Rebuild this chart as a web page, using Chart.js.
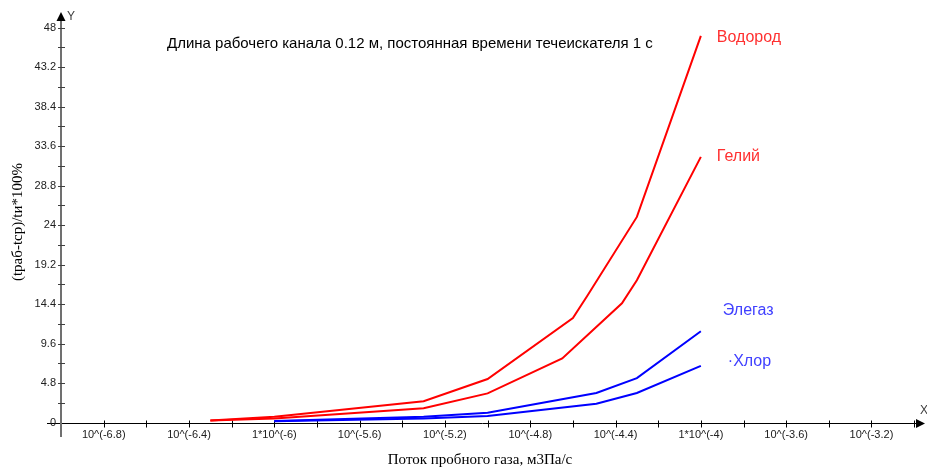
<!DOCTYPE html>
<html>
<head>
<meta charset="utf-8">
<title>Поток пробного газа</title>
<script src="https://cdn.jsdelivr.net/npm/chart.js@4/dist/chart.umd.min.js"></script>
<style>
    html, body { margin: 0; padding: 0; background: #fff; }
    #wrap { width: 927px; height: 467px; }
</style>
</head>
<body>
<div id="wrap"><canvas id="leakChart" width="927" height="467"></canvas></div>
<script>
// x values are log10 of the probe gas flow, y values in %
const h2Flow = [-6.3, -6.0, -5.3, -5.0, -4.6, -4.53, -4.3, -4.0];
const h2Val = [0.25, 0.7, 2.6, 5.3, 12.7, 15.5, 25.0, 47.0];

const heFlow = [-6.3, -6.0, -5.3, -5.0, -4.65, -4.37, -4.3, -4.0];
const heVal = [0.25, 0.5, 1.75, 3.55, 7.8, 14.5, 17.3, 32.3];

const sf6Flow = [-6.0, -5.3, -5.0, -4.49, -4.3, -4.0];
const sf6Val = [0.2, 0.7, 1.2, 3.6, 5.4, 11.1];

const cl2Flow = [-6.0, -5.3, -5.0, -4.49, -4.3, -4.0];
const cl2Val = [0.15, 0.5, 0.8, 2.3, 3.6, 6.9];

const seriesNames = ['Водород', 'Гелий', 'Элегаз', '·Хлор'];

const xTickValues = [-6.8, -6.4, -6.0, -5.6, -5.2, -4.8, -4.4, -4.0, -3.6, -3.2];
const xTickLabels = ['10^(-6.8)', '10^(-6.4)', '1*10^(-6)', '10^(-5.6)', '10^(-5.2)',
    '10^(-4.8)', '10^(-4.4)', '1*10^(-4)', '10^(-3.6)', '10^(-3.2)'];
const yTickValues = [0, 4.8, 9.6, 14.4, 19.2, 24, 28.8, 33.6, 38.4, 43.2, 48];
const yTickLabels = ['0', '4.8', '9.6', '14.4', '19.2', '24', '28.8', '33.6', '38.4', '43.2', '48'];

const chartTitle = 'Длина рабочего канала 0.12 м, постоянная времени течеискателя 1 с';
const xTitle = 'Поток пробного газа, м3Па/с';
const yTitle = '(tраб-tср)/tи*100%';

//helper to zip x and y arrays into points
function toPoints(xs, ys) {
    return xs.map((v, i) => ({ x: v, y: ys[i] }));
}

const SANS = '"Liberation Sans", Arial, sans-serif';
const SERIF = '"Liberation Serif", "Times New Roman", serif';

// label colour and offset from the last point of each line
const labelStyles = [
    { color: '#ff3030', dx: 16, dy: 2 },
    { color: '#ff3030', dx: 16, dy: 0 },
    { color: '#4040ff', dx: 22, dy: -21 },
    { color: '#4040ff', dx: 27, dy: -4 }
];

//plugin that draws the axes with arrows and crossing ticks
const axesPlugin = {
    id: 'axesPlugin',
    beforeDatasetsDraw(chart) {
        const ctx = chart.ctx;
        const xs = chart.scales.x;
        const ys = chart.scales.y;
        const area = chart.chartArea;
        const x0 = Math.round(xs.getPixelForValue(-7));
        const y0 = Math.round(ys.getPixelForValue(0)) + 0.5;

        ctx.save();

        // x axis
        ctx.strokeStyle = '#000';
        ctx.lineWidth = 1;
        ctx.beginPath();
        ctx.moveTo(area.left, y0);
        ctx.lineTo(area.right - 4, y0);
        ctx.stroke();

        // x ticks every 0.2
        for (let v = -6.8; v <= -2.99; v += 0.2) {
            const px = Math.round(xs.getPixelForValue(v)) + 0.5;
            ctx.beginPath();
            ctx.moveTo(px, y0 - 3);
            ctx.lineTo(px, y0 + 4);
            ctx.stroke();
        }

        // x arrow
        ctx.fillStyle = '#000';
        ctx.beginPath();
        ctx.moveTo(area.right + 3, y0);
        ctx.lineTo(area.right - 6, y0 - 4.5);
        ctx.lineTo(area.right - 6, y0 + 4.5);
        ctx.closePath();
        ctx.fill();

        // y axis
        ctx.strokeStyle = '#707070';
        ctx.lineWidth = 2;
        ctx.beginPath();
        ctx.moveTo(x0, area.bottom);
        ctx.lineTo(x0, area.top + 4);
        ctx.stroke();

        // y ticks every 2.4
        ctx.strokeStyle = '#404040';
        ctx.lineWidth = 1;
        for (let i = 1; i <= 20; i++) {
            const py = Math.round(ys.getPixelForValue(i * 2.4)) + 0.5;
            ctx.beginPath();
            ctx.moveTo(x0 - 3, py);
            ctx.lineTo(x0 + 4, py);
            ctx.stroke();
        }

        // y arrow
        ctx.beginPath();
        ctx.moveTo(x0, area.top - 4);
        ctx.lineTo(x0 - 4.5, area.top + 5);
        ctx.lineTo(x0 + 4.5, area.top + 5);
        ctx.closePath();
        ctx.fill();

        // tick labels
        ctx.font = '11px ' + SANS;
        ctx.fillStyle = '#202020';
        ctx.textAlign = 'center';
        ctx.textBaseline = 'middle';
        xTickValues.forEach((v, i) => {
            ctx.fillText(xTickLabels[i], xs.getPixelForValue(v), y0 + 11);
        });
        ctx.textAlign = 'right';
        yTickValues.forEach((v, i) => {
            ctx.fillText(yTickLabels[i], x0 - 5, ys.getPixelForValue(v));
        });

        // axis letters
        ctx.textAlign = 'left';
        ctx.font = '12px ' + SANS;
        ctx.fillStyle = '#404040';
        ctx.fillText('Y', x0 + 6, area.top + 1);
        ctx.fillText('X', area.right - 2, y0 - 13);

        ctx.restore();
    },
    afterDraw(chart) {
        const ctx = chart.ctx;
        const xs = chart.scales.x;
        const ys = chart.scales.y;

        ctx.save();
        ctx.textBaseline = 'middle';

        // title
        ctx.font = '15px ' + SANS;
        ctx.fillStyle = '#000';
        ctx.textAlign = 'left';
        ctx.fillText(chartTitle, 167, 44);

        // axis titles
        ctx.font = '15px ' + SERIF;
        ctx.textAlign = 'center';
        ctx.fillText(xTitle, 480, 460);
        ctx.save();
        ctx.translate(18, 222);
        ctx.rotate(-Math.PI / 2);
        ctx.fillText(yTitle, 0, 0);
        ctx.restore();

        // series labels next to line ends
        ctx.font = '16px ' + SANS;
        ctx.textAlign = 'left';
        chart.data.datasets.forEach((ds, i) => {
            const last = ds.data[ds.data.length - 1];
            const st = labelStyles[i];
            ctx.fillStyle = st.color;
            ctx.fillText(seriesNames[i], xs.getPixelForValue(last.x) + st.dx,
                ys.getPixelForValue(last.y) + st.dy);
        });

        ctx.restore();
    }
};

function makeDataset(label, xs, ys, color) {
    return {
        label: label,
        data: toPoints(xs, ys),
        borderColor: color,
        backgroundColor: color,
        borderWidth: 2,
        showLine: true,
        pointRadius: 0,
        tension: 0,
        fill: false
    };
}

const ctx = document.getElementById('leakChart').getContext('2d');
new Chart(ctx, {
    type: 'scatter',
    data: {
        datasets: [
            makeDataset(seriesNames[0], h2Flow, h2Val, '#ff0000'),
            makeDataset(seriesNames[1], heFlow, heVal, '#ff0000'),
            makeDataset(seriesNames[2], sf6Flow, sf6Val, '#0000ff'),
            makeDataset(seriesNames[3], cl2Flow, cl2Val, '#0000ff')
        ]
    },
    options: {
        responsive: false,
        devicePixelRatio: 1,
        animation: false,
        layout: {
            padding: { left: 47, right: 5, top: 16, bottom: 30 }
        },
        scales: {
            x: { type: 'linear', min: -7.066, max: -2.963, display: false },
            y: { type: 'linear', min: -1.75, max: 49.42, display: false }
        },
        plugins: {
            legend: { display: false },
            tooltip: { enabled: false }
        }
    },
    plugins: [axesPlugin]
});
</script>
</body>
</html>
